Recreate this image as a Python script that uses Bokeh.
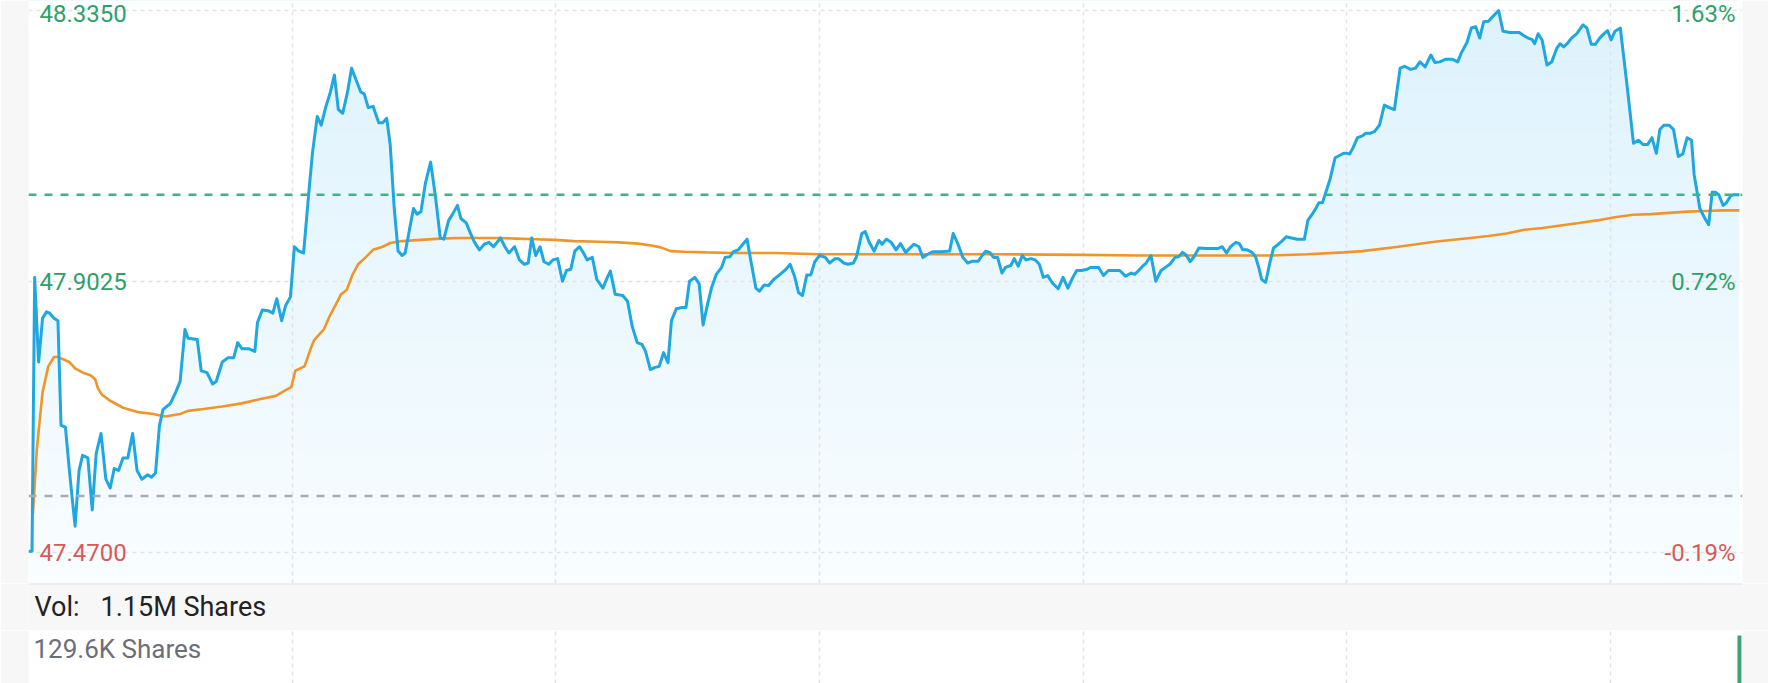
import numpy as np
from bokeh.plotting import figure
from bokeh.models import Range1d, FixedTicker, Span, Label
from bokeh.layouts import column
from bokeh.embed import file_html
from bokeh.resources import INLINE
from bokeh.core.properties import value

# ---------------- data ----------------
# minutes since the 9:30 open, and last trade price
minutes = [
    0, 0.8, 1.4, 2.3, 3.2, 4.1, 4.8, 5.8, 6.7, 7.4,
    8.4, 9.3, 10.6, 11.5, 12.3, 13.5, 14.5, 15.4, 16.5, 17.6,
    18.6, 19.5, 20.5, 21.5, 22.6, 23.7, 24.7, 25.8, 27.1, 28.0,
    28.9, 29.8, 30.6, 32.3, 33.5, 34.5, 35.6, 36.3, 38.4, 39.3,
    40.6, 41.9, 42.7, 44.1, 45.4, 46.7, 47.6, 48.6, 50.2, 51.5,
    52.1, 53.2, 54.5, 55.6, 56.5, 57.6, 58.5, 59.6, 60.5, 61.5,
    62.6, 63.7, 64.6, 65.7, 66.6, 67.6, 68.7, 69.6, 70.5, 71.5,
    72.6, 73.5, 74.5, 75.6, 76.4, 77.3, 78.4, 79.7, 80.6, 81.5,
    82.3, 83.2, 84.1, 85.0, 85.7, 86.7, 87.6, 88.4, 89.3, 90.3,
    91.5, 92.6, 93.7, 94.5, 95.6, 96.5, 97.6, 98.4, 99.6, 100.6,
    101.5, 102.6, 103.7, 104.8, 105.8, 107.4, 108.4, 109.3, 110.6, 111.7,
    112.8, 113.7, 114.5, 115.4, 116.4, 117.3, 118.4, 119.3, 120.4, 121.5,
    122.4, 123.4, 124.3, 125.4, 126.3, 127.1, 128.3, 129.3,
    130.7, 131.7, 132.4, 133.5, 135.2, 136.3, 137.4, 138.5, 139.6, 140.4,
    141.5, 142.4, 143.5, 144.5, 145.5, 146.3, 147.4, 148.7, 149.6, 150.4,
    151.6, 152.6, 153.5, 154.5, 155.4, 156.5, 157.7, 158.5, 159.6, 160.4,
    161.5, 162.3, 163.5, 164.4, 165.5, 166.3, 167.4, 168.4, 169.6, 170.9,
    172.2, 173.3, 174.3, 175.2, 176.1, 177.1, 178.0, 178.9, 180.0, 181.3,
    182.3, 183.5, 184.3, 185.5, 186.5, 187.7, 188.4, 189.6, 190.4, 191.3,
    192.4, 193.5, 194.2, 195.2, 196.3, 197.4, 198.4, 199.6, 200.4, 201.5,
    202.6, 203.5, 204.6, 205.7, 207.8, 209.6, 210.4, 211.5, 212.6, 213.7,
    214.8, 216.1, 217.0, 217.8, 218.7, 219.6, 220.5, 221.5, 222.3, 223.5,
    224.3, 225.2, 226.1, 227.0, 228.1, 229.1, 230.0, 230.9, 231.9, 233.0,
    234.3, 235.4, 236.5, 237.4, 238.5, 239.6, 240.9, 241.7, 243.5, 244.6,
    245.7, 248.3, 249.6, 250.9, 251.7, 252.6, 253.5, 254.3, 255.4, 256.5,
    257.7, 258.7, 259.7, 260.9, 261.7, 262.6, 263.5, 264.3, 265.2, 266.3,
    268.1, 270.6, 271.6, 272.6, 273.5, 274.7, 275.5, 276.3, 277.3, 278.4,
    279.2, 280.0, 280.6, 281.5, 282.5, 283.3, 284.4, 285.2, 286.2, 287.4,
    288.7, 290.3, 291.1, 292.1, 292.9, 293.6, 294.4, 295.2, 296.2, 297.3,
    298.4, 299.2, 300.0, 300.6, 301.4, 302.4, 303.5, 304.3, 305.3, 306.3,
    307.4, 308.5, 309.6, 310.8, 312.1, 313.1, 314.5, 315.6, 316.6, 317.8,
    319.1, 320.0, 321.1, 322.4, 324.0, 325.2, 326.0, 327.3, 328.3, 329.3,
    330.2, 331.1, 332.2, 333.0, 333.7, 334.5, 335.5, 337.1, 339.2, 340.2,
    341.2, 342.1, 342.7, 343.5, 344.4, 345.5, 346.6, 347.7, 348.5, 349.3,
    350.1, 351.1, 352.3, 353.7, 354.6, 355.6, 356.5, 357.5, 358.5, 359.3,
    360.1, 361.0, 362.2, 363.8, 365.2, 366.3, 367.4, 368.4, 369.4, 370.4,
    371.2, 372.1, 373.3, 374.3, 375.4, 376.4, 377.4, 378.4, 379.0, 380.3,
    381.3, 382.3, 383.1, 383.8, 384.6, 385.6, 386.3, 387.3, 388.0, 389.3,
]
price = [
    47.472, 47.472, 47.909, 47.774, 47.844, 47.854, 47.852, 47.844, 47.840, 47.673,
    47.670, 47.601, 47.512, 47.601, 47.625, 47.621, 47.538, 47.628, 47.660, 47.587,
    47.573, 47.604, 47.601, 47.621, 47.621, 47.660, 47.601, 47.587, 47.594, 47.590,
    47.597, 47.673, 47.698, 47.708, 47.726, 47.743, 47.826, 47.812, 47.810, 47.760,
    47.757, 47.739, 47.743, 47.774, 47.781, 47.781, 47.805, 47.795, 47.795, 47.791,
    47.837, 47.857, 47.856, 47.852, 47.875, 47.840, 47.864, 47.878, 47.958, 47.951,
    47.948, 48.038, 48.107, 48.166, 48.152, 48.180, 48.205, 48.232, 48.177, 48.171,
    48.205, 48.243, 48.225, 48.205, 48.202, 48.180, 48.182, 48.156, 48.156, 48.163,
    48.121, 48.021, 47.951, 47.944, 47.948, 47.986, 48.019, 48.010, 48.014, 48.059,
    48.093, 48.038, 47.972, 47.970, 48.000, 48.010, 48.024, 48.003, 47.996, 47.979,
    47.965, 47.953, 47.962, 47.965, 47.958, 47.972, 47.958, 47.948, 47.958, 47.937,
    47.930, 47.932, 47.972, 47.944, 47.958, 47.934, 47.930, 47.937, 47.939, 47.903,
    47.920, 47.922, 47.951, 47.958, 47.948, 47.937, 47.941, 47.906,
    47.892, 47.909, 47.919, 47.882, 47.880, 47.871, 47.830, 47.805, 47.802, 47.791,
    47.762, 47.765, 47.767, 47.789, 47.773, 47.840, 47.859, 47.861, 47.861, 47.903,
    47.909, 47.899, 47.833, 47.866, 47.892, 47.914, 47.925, 47.941, 47.942, 47.950,
    47.953, 47.960, 47.970, 47.934, 47.892, 47.887, 47.897, 47.896, 47.906, 47.913,
    47.921, 47.930, 47.911, 47.885, 47.880, 47.913, 47.913, 47.934, 47.944, 47.941,
    47.932, 47.939, 47.939, 47.932, 47.930, 47.932, 47.942, 47.979, 47.982, 47.965,
    47.951, 47.968, 47.962, 47.970, 47.965, 47.953, 47.963, 47.949, 47.955, 47.962,
    47.958, 47.941, 47.946, 47.950, 47.950, 47.951, 47.979, 47.962, 47.941, 47.932,
    47.935, 47.935, 47.944, 47.951, 47.949, 47.941, 47.941, 47.916, 47.925, 47.928,
    47.939, 47.927, 47.944, 47.937, 47.939, 47.937, 47.930, 47.909, 47.912, 47.900,
    47.891, 47.909, 47.892, 47.906, 47.920, 47.920, 47.922, 47.925, 47.925, 47.912,
    47.920, 47.920, 47.911, 47.916, 47.914, 47.920, 47.927, 47.932, 47.944, 47.903,
    47.920, 47.925, 47.930, 47.941, 47.942, 47.949, 47.944, 47.934, 47.942, 47.956,
    47.955, 47.955, 47.958, 47.948, 47.958, 47.965, 47.963, 47.953, 47.953, 47.949,
    47.942, 47.923, 47.906, 47.901, 47.934, 47.956, 47.962, 47.967, 47.974, 47.972,
    47.970, 47.970, 48.000, 48.010, 48.019, 48.028, 48.028, 48.045, 48.067, 48.100,
    48.104, 48.107, 48.107, 48.106, 48.116, 48.132, 48.135, 48.139, 48.139, 48.142,
    48.152, 48.184, 48.180, 48.177, 48.243, 48.246, 48.241, 48.243, 48.253, 48.245,
    48.264, 48.252, 48.253, 48.257, 48.257, 48.253, 48.267, 48.284, 48.307, 48.309,
    48.291, 48.317, 48.318, 48.324, 48.329, 48.335, 48.302, 48.300, 48.300, 48.295,
    48.291, 48.289, 48.282, 48.298, 48.288, 48.248, 48.253, 48.274, 48.282, 48.277,
    48.282, 48.291, 48.298, 48.312, 48.307, 48.281, 48.281, 48.291, 48.298, 48.303,
    48.288, 48.302, 48.307, 48.211, 48.123, 48.128, 48.121, 48.121, 48.132, 48.107,
    48.145, 48.152, 48.152, 48.145, 48.102, 48.106, 48.132, 48.128, 48.073, 48.019,
    48.005, 47.993, 48.045, 48.045, 48.041, 48.024, 48.028, 48.039, 48.041, 48.041,
]
# running average price
avg_minutes = [
    1.0, 1.9, 3.2, 4.5, 5.8, 6.7, 8.0, 9.3, 10.6, 12.4,
    14.1, 15.2, 15.8, 16.7, 18.4, 21.5, 25.0, 28.4, 31.1, 34.5,
    36.3, 39.8, 44.1, 48.5, 52.8, 56.3, 58.5, 59.8, 60.7, 62.8,
    64.2, 65.0, 67.2, 68.5, 69.8, 71.1, 72.4, 73.7, 75.0, 76.7,
    78.4, 80.6, 82.3, 85.0, 89.3, 93.7, 98.0, 106.7, 111.0, 115.4,
    119.7, 124.1, 130.0, 134.3, 138.7, 141.7, 143.9, 146.1, 149.1, 154.3,
    160.0, 170.0, 180.0, 200.0, 220.0, 240.0, 253.0, 266.0, 275.0, 283.0,
    291.0, 299.3, 303.5, 311.7, 319.9, 328.1, 332.2, 336.3, 340.4, 344.5,
    348.6, 352.8, 356.9, 361.0, 365.1, 369.2, 373.3, 377.4, 381.5, 385.6,
    389.3,
]
avg_price = [
    47.531, 47.635, 47.726, 47.767, 47.782, 47.782, 47.778, 47.774, 47.764, 47.757,
    47.753, 47.746, 47.732, 47.722, 47.713, 47.701, 47.694, 47.691, 47.687, 47.691,
    47.696, 47.699, 47.703, 47.708, 47.715, 47.720, 47.729, 47.734, 47.760, 47.767,
    47.795, 47.809, 47.826, 47.847, 47.864, 47.882, 47.889, 47.913, 47.930, 47.941,
    47.953, 47.958, 47.964, 47.967, 47.969, 47.971, 47.972, 47.972, 47.971, 47.970,
    47.969, 47.967, 47.966, 47.965, 47.963, 47.960, 47.957, 47.951, 47.950, 47.949,
    47.948, 47.948, 47.946, 47.946, 47.946, 47.945, 47.944, 47.944, 47.944, 47.944,
    47.946, 47.949, 47.951, 47.958, 47.966, 47.972, 47.975, 47.979, 47.985, 47.988,
    47.992, 47.996, 48.000, 48.005, 48.009, 48.010, 48.012, 48.014, 48.015, 48.016,
    48.016,
]
prev_close = 47.56
last_price = 48.041
price_ticks = [47.47, 47.9025, 48.335]
time_ticks = [0, 60, 120, 180, 240, 300, 360]
session_minutes = 390
vol_minutes = [389.3]
volume = [129600]
total_volume = "1.15M Shares"

# ---------------- styling / geometry ----------------
FONT = "Roboto"
W = 1768
BL, BR = 28, 26
H_PRICE, H_BAND, H_VOL = 583, 47, 53
GRAY_BG = "#f7f7f7"
UP, DOWN = "#2f9f6c", "#d85a58"

px = (price_ticks[-1] - price_ticks[0]) / 542.0
y_hi = price_ticks[-1] + 10 * px
y_lo = price_ticks[0] - 31 * px

xr = Range1d(0, session_minutes)

def base_fig(h, yr, bg="white"):
    f = figure(width=W, height=h, x_range=xr, y_range=yr,
               x_axis_location=None, y_axis_location=None,
               toolbar_location=None, output_backend="svg",
               min_border_left=BL, min_border_right=BR,
               min_border_top=0, min_border_bottom=0,
               background_fill_color=bg, border_fill_color=GRAY_BG,
               outline_line_color=None)
    return f

# ---------------- price panel ----------------
p = base_fig(H_PRICE, Range1d(y_lo, y_hi))
p.xgrid.ticker = FixedTicker(ticks=time_ticks)
p.ygrid.ticker = FixedTicker(ticks=price_ticks)
p.grid.grid_line_color = "#e2e2e2"
p.grid.grid_line_dash = "4 4"
p.grid.grid_line_width = 1.5

# vertical gradient fill under the price line
N = 70
edges = np.linspace(y_lo, y_hi, N + 1)
top_rgb = np.array([221, 242, 253])
bot_rgb = np.array([249, 253, 255])
cols = []
for k in range(N):
    f = (0.5 * (edges[k] + edges[k + 1]) - y_lo) / (y_hi - y_lo)
    c = bot_rgb + f * (top_rgb - bot_rgb)
    cols.append("#%02x%02x%02x" % tuple(int(round(v)) for v in c))
p.quad(left=minutes[0], right=minutes[-1], bottom=edges[:-1], top=edges[1:] + 0.4 * px,
       fill_color=cols, line_color=None, level="image")
p.varea(x=minutes, y1=price, y2=[y_hi] * len(minutes), fill_color="white", level="image")

p.line(avg_minutes, avg_price, line_color="#f0952a", line_width=2.6)
p.line(minutes, price, line_color="#1ea7e1", line_width=3, line_join="round")

p.add_layout(Span(location=prev_close, dimension="width", line_color="#a9abbd",
                  line_dash="8 8", line_width=2.5))
p.add_layout(Span(location=last_price, dimension="width", line_color="#3fb47f",
                  line_dash="8 8", line_width=2.5))

tick_cols = [UP if v >= prev_close else DOWN for v in price_ticks]
lab_dy = [0, 0, 3]
p.text(x=[0] * 3, y=price_ticks, text=["%.4f" % v for v in price_ticks],
       x_offset=11, y_offset=lab_dy, text_baseline="middle", text_align="left",
       text_font=value(FONT), text_font_size="24px", text_color=tick_cols)
pct = ["%.2f%%" % ((v / prev_close - 1) * 100) for v in price_ticks]
p.text(x=[session_minutes] * 3, y=price_ticks, text=pct,
       x_offset=-7, y_offset=lab_dy, text_baseline="middle", text_align="right",
       text_font=value(FONT), text_font_size="24px", text_color=tick_cols)

# ---------------- volume header band ----------------
band = base_fig(H_BAND, Range1d(0, 1), bg=GRAY_BG)
band.grid.visible = False
band.add_layout(Span(location=1, dimension="width", line_color="#e3e3e3", line_width=2))
band.add_layout(Label(x=0, y=0.5, x_offset=6, text="Vol:", text_baseline="middle",
                      text_font=FONT, text_font_size="27px", text_color="#222222"))
band.add_layout(Label(x=0, y=0.5, x_offset=72, text=total_volume, text_baseline="middle",
                      text_font=FONT, text_font_size="27px", text_color="#222222"))

# ---------------- volume panel ----------------
vmax = max(volume)
vol_top = vmax * 53.0 / 48.0
pv = base_fig(H_VOL, Range1d(0, vol_top))
pv.xgrid.ticker = FixedTicker(ticks=time_ticks)
pv.ygrid.visible = False
pv.xgrid.grid_line_color = "#e2e2e2"
pv.xgrid.grid_line_dash = "4 4"
pv.xgrid.grid_line_width = 1.5
pv.vbar(x=vol_minutes, top=volume, width=0.9, fill_color="#33a86f", line_color=None)
pv.add_layout(Label(x=0, y=vol_top, x_offset=5, y_offset=-3,
                    text="%.1fK Shares" % (vmax / 1000.0), text_baseline="top",
                    text_font=FONT, text_font_size="26px", text_color="#6c6e78"))

layout = column(p, band, pv, spacing=0)
open("out.html", "w").write(file_html(layout, INLINE))
